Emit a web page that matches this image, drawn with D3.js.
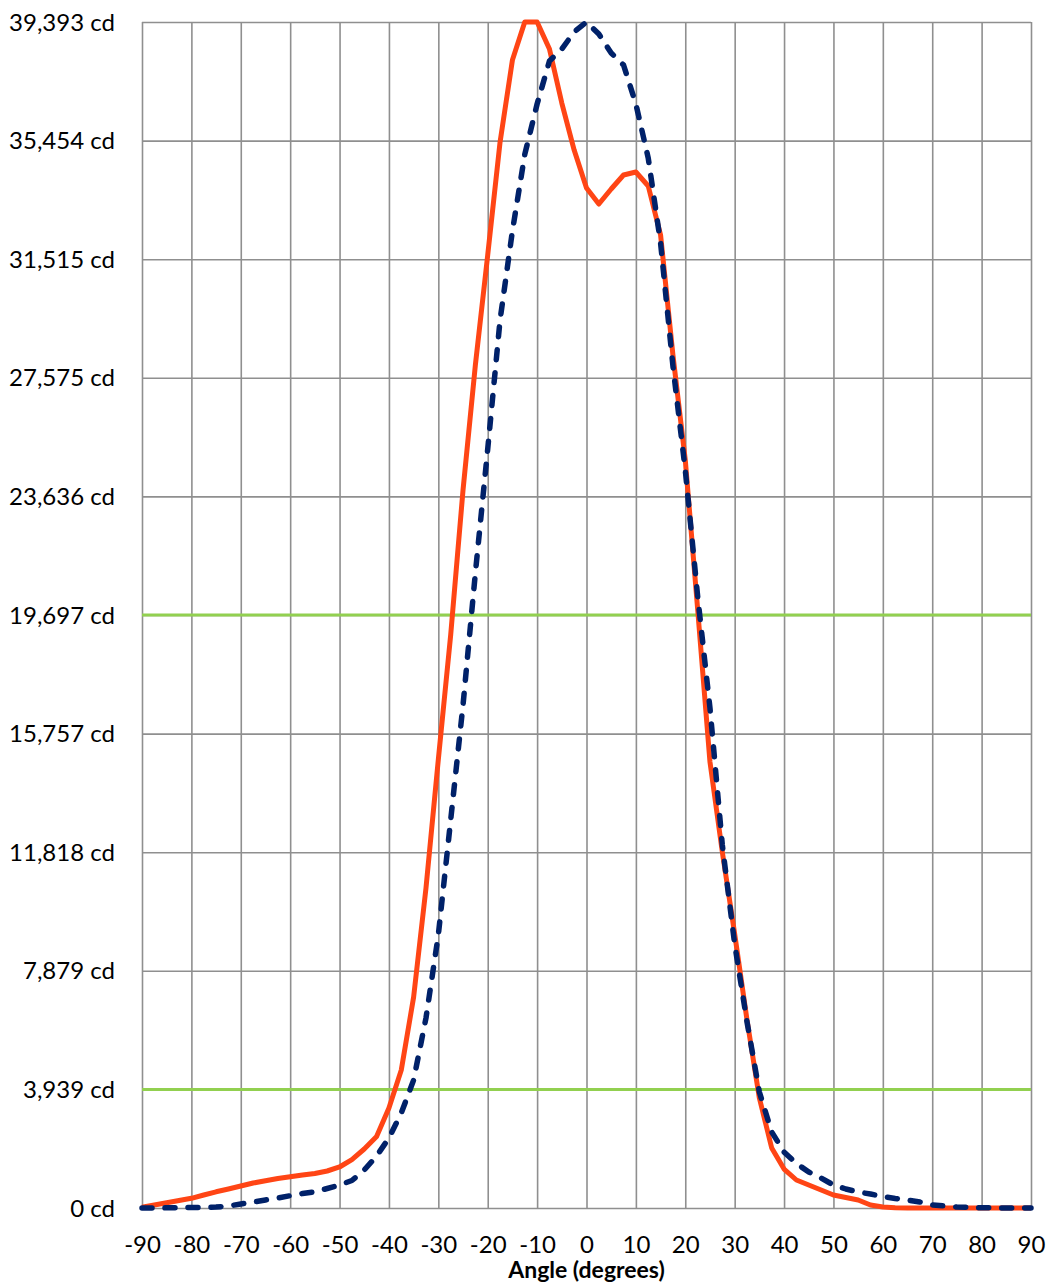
<!DOCTYPE html>
<html>
<head>
<meta charset="utf-8">
<script src="https://cdn.jsdelivr.net/npm/d3@7"></script>
<style>
  html, body { margin: 0; padding: 0; background: #fff; }
  svg { display: block; }
  .tick text { font-family: Lato, "Open Sans", sans-serif; font-size: 24px; fill: #000; }
</style>
</head>
<body>
<svg id="chart" width="1047" height="1285"></svg>
<script>
// ---- data ----
const angles = [
  -90,-87.5,-85,-82.5,-80,-77.5,-75,-72.5,-70,-67.5,-65,-62.5,-60,-57.5,-55,-52.5,-50,-47.5,-45,-42.5,
  -40,-37.5,-35,-32.5,-30,-27.5,-25,-22.5,-20,-17.5,-15,-12.5,-10,-7.5,-5,-2.5,0,2.5,5,7.5,
  10,12.5,15,17.5,20,22.5,25,27.5,30,32.5,35,37.5,40,42.5,45,47.5,50,52.5,55,57.5,
  60,62.5,65,67.5,70,72.5,75,77.5,80,82.5,85,87.5,90
];
const solidSeries = [
  30,100,176,249,322,432,538,631,731,830,907,980,1040,1096,1146,1229,1362,1610,1960,2375,
  3320,4584,7008,10629,14900,19032,23848,28000,31654,35407,38130,39393,39393,38496,36702,35141,33879,33347,33846,34311,
  34411,33946,32318,28331,24845,19900,14814,11824,9101,6244,3654,1993,1295,930,764,598,432,349,266,100,
  33,10,0,0,0,0,0,0,0,0,0,0,0
];
const dashedSeries = [
  0,0,5,10,15,20,30,66,133,199,266,332,408,482,538,648,764,913,1262,1727,
  2325,3155,4252,6311,9068,12887,16707,21092,25211,29496,32452,34993,36669,38097,38496,39061,39393,38994,38363,37964,
  36669,34875,32052,27966,24513,20327,16607,12057,8769,6178,3853,2524,1860,1478,1196,996,764,631,531,465,
  382,316,266,199,100,66,33,20,10,5,0,0,0
];
const xTickValues = [-90,-80,-70,-60,-50,-40,-30,-20,-10,0,10,20,30,40,50,60,70,80,90];
const yTickValues = [0,3939.3,7878.6,11817.9,15757.2,19696.5,23635.8,27575.1,31514.4,35453.7,39393];
const yTickLabels = ["0 cd","3,939 cd","7,879 cd","11,818 cd","15,757 cd","19,697 cd","23,636 cd","27,575 cd","31,515 cd","35,454 cd","39,393 cd"];
const thresholdValues = [19696.5, 3939.3];
const xTitle = "Angle (degrees)";

// ---- layout ----
const svg = d3.select("#chart");
const mLeft = 142, mRight = 1031, mTop = 22, mBottom = 1208;
const x = d3.scaleLinear().domain([-90, 90]).range([mLeft, mRight]);
const y = d3.scaleLinear().domain([0, 39393]).range([mBottom, mTop]);

const gridColor = "#8f8f8f";

// y axis with gridlines
const yAxis = d3.axisLeft(y)
  .tickValues(yTickValues)
  .tickFormat((d, i) => yTickLabels[i])
  .tickSizeInner(-(mRight - mLeft))
  .tickSizeOuter(0)
  .tickPadding(27);
const gy = svg.append("g").attr("transform", `translate(${mLeft},0)`).call(yAxis);
gy.select(".domain").remove();
gy.selectAll(".tick line").attr("stroke", gridColor).attr("stroke-width", 1.6);
gy.selectAll(".tick text").attr("dy", "0.34em");

// x axis with gridlines
const xAxis = d3.axisBottom(x)
  .tickValues(xTickValues)
  .tickFormat(d => String(d))
  .tickSizeInner(-(mBottom - mTop))
  .tickSizeOuter(0)
  .tickPadding(40);
const gx = svg.append("g").attr("transform", `translate(0,${mBottom})`).call(xAxis);
gx.select(".domain").remove();
gx.selectAll(".tick line").attr("stroke", gridColor).attr("stroke-width", 1.6);
gx.selectAll(".tick text").attr("dy", "0.2em");

// threshold lines
svg.append("g").selectAll("line").data(thresholdValues).join("line")
  .attr("x1", mLeft).attr("x2", mRight)
  .attr("y1", d => y(d)).attr("y2", d => y(d))
  .attr("stroke", "#92D050").attr("stroke-width", 3);

// series lines
const line = d3.line().x((d, i) => x(angles[i])).y(d => y(d));

svg.append("path").datum(solidSeries)
  .attr("d", line)
  .attr("fill", "none")
  .attr("stroke", "#FF4515")
  .attr("stroke-width", 5)
  .attr("stroke-linejoin", "round");

svg.append("path").datum(dashedSeries)
  .attr("d", line)
  .attr("fill", "none")
  .attr("stroke", "#002169")
  .attr("stroke-width", 5.5)
  .attr("stroke-linecap", "round")
  .attr("stroke-linejoin", "round")
  .attr("stroke-dasharray", "10,13");

// x axis title
svg.append("text")
  .attr("x", (mLeft + mRight) / 2)
  .attr("y", 1278)
  .attr("text-anchor", "middle")
  .attr("font-family", "Lato, 'Open Sans', sans-serif")
  .attr("font-weight", "bold")
  .attr("font-size", 23)
  .attr("fill", "#000")
  .text(xTitle);
</script>
</body>
</html>
